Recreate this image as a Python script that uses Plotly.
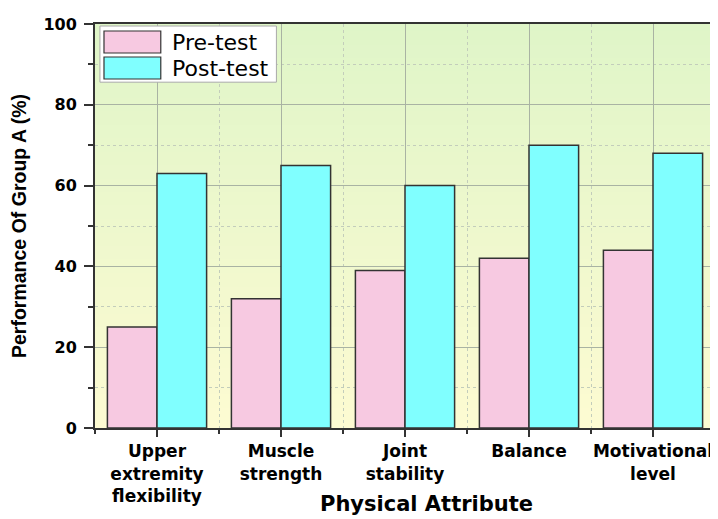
import plotly.graph_objects as go

categories = ["Upper<br>extremity<br>flexibility", "Muscle<br>strength", "Joint<br>stability", "Balance", "Motivational<br>level"]
pre_test = [25, 32, 39, 42, 44]
post_test = [63, 65, 60, 70, 68]
series_names = ["Pre-test", "Post-test"]
y_ticks = [0, 20, 40, 60, 80, 100]

PINK = "#f7c9e1"
CYAN = "#80ffff"
EDGE = "#333333"
FONT = "Liberation Sans, Arial, sans-serif"
WIDE = "DejaVu Sans, Verdana, sans-serif"

xs = list(range(len(categories)))

fig = go.Figure()
fig.add_trace(go.Bar(x=xs, y=pre_test, name=series_names[0], marker=dict(color=PINK, line=dict(color=EDGE, width=1.5)), showlegend=False))
fig.add_trace(go.Bar(x=xs, y=post_test, name=series_names[1], marker=dict(color=CYAN, line=dict(color=EDGE, width=1.5)), showlegend=False))

# gradient background (green top -> pale yellow bottom)
top = (0xdf, 0xf5, 0xc8)
bot = (0xfd, 0xfb, 0xd2)
n = 60
for i in range(n):
    t = i / (n - 1)
    c = tuple(round(bot[k] + (top[k] - bot[k]) * t) for k in range(3))
    fig.add_shape(type="rect", xref="x domain", yref="y domain",
                  x0=0, x1=1, y0=i / n, y1=(i + 1) / n + 0.002,
                  fillcolor="rgb(%d,%d,%d)" % c, line=dict(width=0), layer="below")

# custom legend
fig.add_shape(type="rect", xref="x domain", yref="y domain", x0=0.008, x1=0.2926, y0=0.856, y1=0.995,
              fillcolor="white", line=dict(color="#aaaaaa", width=1), layer="above")
fig.add_shape(type="rect", xref="x domain", yref="y domain", x0=0.0145, x1=0.1061, y0=0.9282, y1=0.9827,
              fillcolor=PINK, line=dict(color=EDGE, width=1.2), layer="above")
fig.add_shape(type="rect", xref="x domain", yref="y domain", x0=0.0145, x1=0.1061, y0=0.8639, y1=0.9183,
              fillcolor=CYAN, line=dict(color=EDGE, width=1.2), layer="above")
for name, yy in zip(series_names, [0.9554, 0.891]):
    fig.add_annotation(text=name, xref="x domain", yref="y domain", x=0.1206, y=yy,
                       xanchor="left", yanchor="middle", showarrow=False,
                       font=dict(family=WIDE, size=22, color="black"))

fig.add_annotation(text="Physical Attribute", xref="x domain", yref="y domain", x=0.535, y=-0.222,
                   xanchor="center", yanchor="bottom", showarrow=False,
                   font=dict(family=WIDE, size=21, color="black", weight="bold"))

fig.update_layout(
    width=710, height=511,
    margin=dict(l=87, r=1, t=16, b=91),
    paper_bgcolor="white", plot_bgcolor="rgba(0,0,0,0)",
    barmode="group", bargap=0.2, bargroupgap=0,
    font=dict(family=FONT, color="black"),
)
fig.update_xaxes(
    range=[-0.5, len(categories) - 0.5],
    tickvals=xs, ticktext=categories,
    tickfont=dict(family=WIDE, size=17, weight="bold"),
    ticks="outside", ticklen=7, tickwidth=2, tickcolor=EDGE,
    showline=True, linecolor=EDGE, linewidth=2, mirror=True,
    showgrid=True, gridcolor="#a9b3a3", gridwidth=1,
    minor=dict(tick0=0.5, dtick=1, ticks="outside", ticklen=4, tickwidth=1.5, tickcolor=EDGE,
               showgrid=True, gridcolor="#c3cdbb", griddash="dot", gridwidth=1),
    zeroline=False,
)
fig.update_yaxes(
    range=[0, 100], tickvals=y_ticks,
    tickfont=dict(family=WIDE, size=16, weight="bold"),
    ticks="outside", ticklen=9, tickwidth=2, tickcolor=EDGE, ticklabelstandoff=4,
    showline=True, linecolor=EDGE, linewidth=2, mirror=True,
    showgrid=True, gridcolor="#a9b3a3", gridwidth=1,
    minor=dict(dtick=10, tick0=0, ticks="outside", ticklen=5, tickwidth=1.5, tickcolor=EDGE,
               showgrid=True, gridcolor="#c3cdbb", griddash="dot", gridwidth=1),
    zeroline=False,
    title=dict(text="Performance Of Group A (%)", standoff=16,
               font=dict(family=FONT, size=19.5, weight="bold")),
)

fig.write_html("out.html")
